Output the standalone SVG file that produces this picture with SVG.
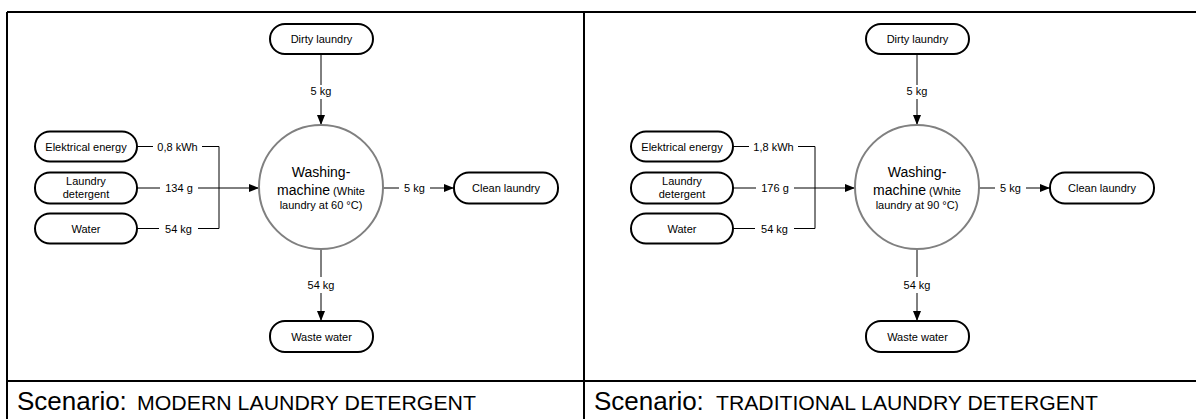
<svg xmlns="http://www.w3.org/2000/svg" width="1196" height="419" viewBox="0 0 1196 419">
<style>
.pill{fill:#fff;stroke:#000;stroke-width:2}
.mach{fill:#fff;stroke:#808080;stroke-width:2}
.t{font-family:"Liberation Sans",Arial,sans-serif;font-size:11px;fill:#000;text-anchor:middle}
.big{font-size:14px}
.c{stroke:#000;stroke-width:1;fill:none}
.frame{stroke:#000;stroke-width:2;fill:none}
.cap{font-family:"Liberation Sans",Arial,sans-serif;fill:#000}
</style>
<defs>
<marker id="ah" markerUnits="userSpaceOnUse" markerWidth="10" markerHeight="8" refX="10" refY="4" orient="auto">
<path d="M0,0 L10,4 L0,8 z" fill="#000"/>
</marker>
</defs>
<rect width="1196" height="419" fill="#fff"/>
<g id="frame">
<path class="frame" d="M7,12 H1200 M7,12 V425 M584,12 V425 M7,381 H1200"/>
</g>
<g id="captions">
<text class="cap" x="17" y="410" font-size="26">Scenario:</text>
<text class="cap" x="137" y="410" font-size="20.5" textLength="339" lengthAdjust="spacingAndGlyphs">MODERN LAUNDRY DETERGENT</text>
<text class="cap" x="594" y="410" font-size="26">Scenario:</text>
<text class="cap" x="716" y="410" font-size="20.5" textLength="382" lengthAdjust="spacingAndGlyphs">TRADITIONAL LAUNDRY DETERGENT</text>
</g>

<!-- Left panel -->
<g id="connectors-left">
<path class="c" d="M321,54 V85"/>
<path class="c" d="M321,99 V125" marker-end="url(#ah)"/>
<text class="t" x="321" y="95">5 kg</text>
<path class="c" d="M137,146.5 H153"/>
<path class="c" d="M202,146.5 H219 V228.5"/>
<text class="t" x="177.5" y="150.5">0,8 kWh</text>
<path class="c" d="M137,188 H160"/>
<path class="c" d="M198,188 H259" marker-end="url(#ah)"/>
<text class="t" x="179" y="192">134 g</text>
<path class="c" d="M137,228.5 H159"/>
<path class="c" d="M198,228.5 H219"/>
<text class="t" x="178.5" y="232.5">54 kg</text>
<path class="c" d="M383,188 H399"/>
<path class="c" d="M430,188 H454" marker-end="url(#ah)"/>
<text class="t" x="414.5" y="192">5 kg</text>
<path class="c" d="M321,249 V277"/>
<path class="c" d="M321,293 V321" marker-end="url(#ah)"/>
<text class="t" x="321" y="289">54 kg</text>
</g>
<g id="dirty-left"><rect class="pill" x="270" y="24" width="103" height="30" rx="15"/><text class="t" x="321.5" y="43">Dirty laundry</text></g>
<g id="energy-left"><rect class="pill" x="35" y="131.5" width="102" height="30" rx="15"/><text class="t" x="86" y="150.5">Elektrical energy</text></g>
<g id="detergent-left"><rect class="pill" x="35" y="172.5" width="102" height="31" rx="15"/><text class="t" x="86" y="185">Laundry</text><text class="t" x="86" y="198">detergent</text></g>
<g id="water-left"><rect class="pill" x="35" y="213.5" width="102" height="30" rx="15"/><text class="t" x="86" y="232.5">Water</text></g>
<g id="clean-left"><rect class="pill" x="454" y="172.5" width="104" height="31" rx="15"/><text class="t" x="506" y="192">Clean laundry</text></g>
<g id="waste-left"><rect class="pill" x="270" y="321" width="103" height="31" rx="15"/><text class="t" x="321.5" y="340.5">Waste water</text></g>
<g id="machine-left"><circle class="mach" cx="321" cy="187" r="62"/>
<text class="t big" x="321" y="177">Washing-</text>
<text class="t" x="321" y="195"><tspan class="big">machine</tspan> (White</text>
<text class="t" x="321" y="209">laundry at 60 °C)</text></g>

<!-- Right panel -->
<g id="connectors-right" transform="translate(596,0)">
<path class="c" d="M321,54 V85"/>
<path class="c" d="M321,99 V125" marker-end="url(#ah)"/>
<text class="t" x="321" y="95">5 kg</text>
<path class="c" d="M137,146.5 H153"/>
<path class="c" d="M202,146.5 H219 V228.5"/>
<text class="t" x="177.5" y="150.5">1,8 kWh</text>
<path class="c" d="M137,188 H160"/>
<path class="c" d="M198,188 H259" marker-end="url(#ah)"/>
<text class="t" x="179" y="192">176 g</text>
<path class="c" d="M137,228.5 H159"/>
<path class="c" d="M198,228.5 H219"/>
<text class="t" x="178.5" y="232.5">54 kg</text>
<path class="c" d="M383,188 H399"/>
<path class="c" d="M430,188 H454" marker-end="url(#ah)"/>
<text class="t" x="414.5" y="192">5 kg</text>
<path class="c" d="M321,249 V277"/>
<path class="c" d="M321,293 V321" marker-end="url(#ah)"/>
<text class="t" x="321" y="289">54 kg</text>
</g>
<g id="dirty-right" transform="translate(596,0)"><rect class="pill" x="270" y="24" width="103" height="30" rx="15"/><text class="t" x="321.5" y="43">Dirty laundry</text></g>
<g id="energy-right" transform="translate(596,0)"><rect class="pill" x="35" y="131.5" width="102" height="30" rx="15"/><text class="t" x="86" y="150.5">Elektrical energy</text></g>
<g id="detergent-right" transform="translate(596,0)"><rect class="pill" x="35" y="172.5" width="102" height="31" rx="15"/><text class="t" x="86" y="185">Laundry</text><text class="t" x="86" y="198">detergent</text></g>
<g id="water-right" transform="translate(596,0)"><rect class="pill" x="35" y="213.5" width="102" height="30" rx="15"/><text class="t" x="86" y="232.5">Water</text></g>
<g id="clean-right" transform="translate(596,0)"><rect class="pill" x="454" y="172.5" width="104" height="31" rx="15"/><text class="t" x="506" y="192">Clean laundry</text></g>
<g id="waste-right" transform="translate(596,0)"><rect class="pill" x="270" y="321" width="103" height="31" rx="15"/><text class="t" x="321.5" y="340.5">Waste water</text></g>
<g id="machine-right" transform="translate(596,0)"><circle class="mach" cx="321" cy="187" r="62"/>
<text class="t big" x="321" y="177">Washing-</text>
<text class="t" x="321" y="195"><tspan class="big">machine</tspan> (White</text>
<text class="t" x="321" y="209">laundry at 90 °C)</text></g>
</svg>
